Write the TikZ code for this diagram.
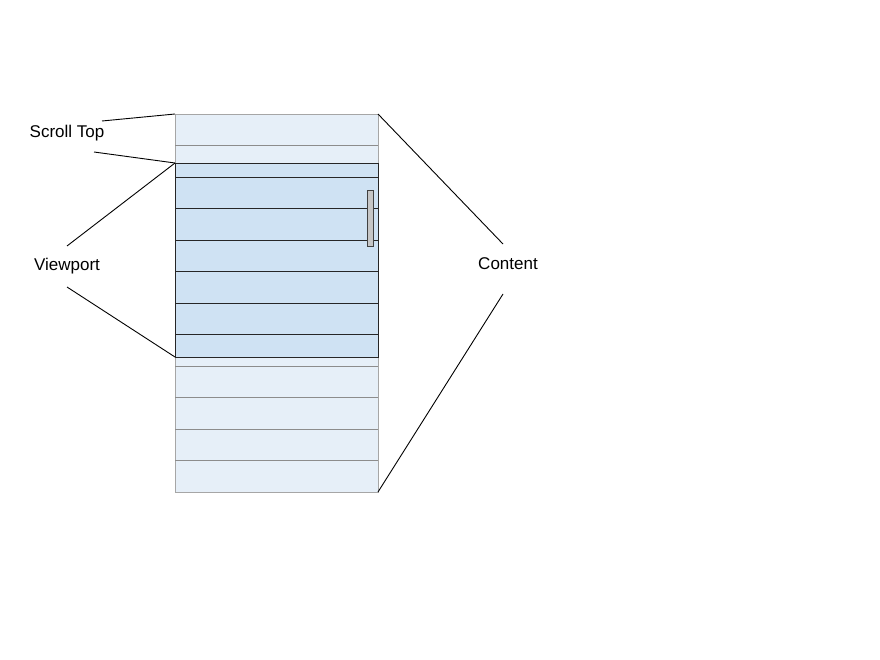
\documentclass[tikz,border=0pt]{standalone}
\usepackage{fontspec}
\setmainfont{Liberation Sans}
\definecolor{contentfill}{RGB}{230,239,248}
\definecolor{viewfill}{RGB}{207,226,243}

\begin{document}
\begin{tikzpicture}[x=1pt,y=-1pt,
    label/.style={font=\fontsize{17}{20}\selectfont, inner sep=0pt},
    pointer/.style={black, line width=0.9pt}]
  \useasboundingbox (0,0) rectangle (880,660);
  % content column
  \filldraw[fill=contentfill, draw=gray!70] (175,114) rectangle (378,492);
  \foreach \i in {1,...,11}
    \draw[gray!90] (175,114+31.5*\i) -- (378,114+31.5*\i);
  % viewport
  \filldraw[fill=viewfill, draw=black!85, line width=0.8pt] (175,163) rectangle (378,357);
  \foreach \i in {2,...,7}
    \draw[black!85, line width=0.8pt] (175,114+31.5*\i) -- (378,114+31.5*\i);
  \filldraw[fill=gray!45, draw=black!75] (367,190) rectangle (373,246);
  \coordinate (c-tl) at (175,114);
  \coordinate (c-tr) at (378,114);
  \coordinate (c-br) at (378,492);
  \coordinate (v-tl) at (175,163);
  \coordinate (v-bl) at (175,357);
  % labels
  \node[label] (scrolltop) at (67,133) {Scroll Top};
  \node[label] (viewport) at (67,266) {Viewport};
  \node[label] (content) at (508,264) {Content};
  \coordinate (st-a) at (102,121);
  \coordinate (st-b) at (94,152);
  \coordinate (vp-a) at (67,246);
  \coordinate (vp-b) at (67,287);
  \coordinate (ct-a) at (503,244);
  \coordinate (ct-b) at (503,294);
  \draw[pointer] (st-a) -- (c-tl);
  \draw[pointer] (st-b) -- (v-tl);
  \draw[pointer] (vp-a) -- (v-tl);
  \draw[pointer] (vp-b) -- (v-bl);
  \draw[pointer] (ct-a) -- (c-tr);
  \draw[pointer] (ct-b) -- (c-br);
\end{tikzpicture}
\end{document}
